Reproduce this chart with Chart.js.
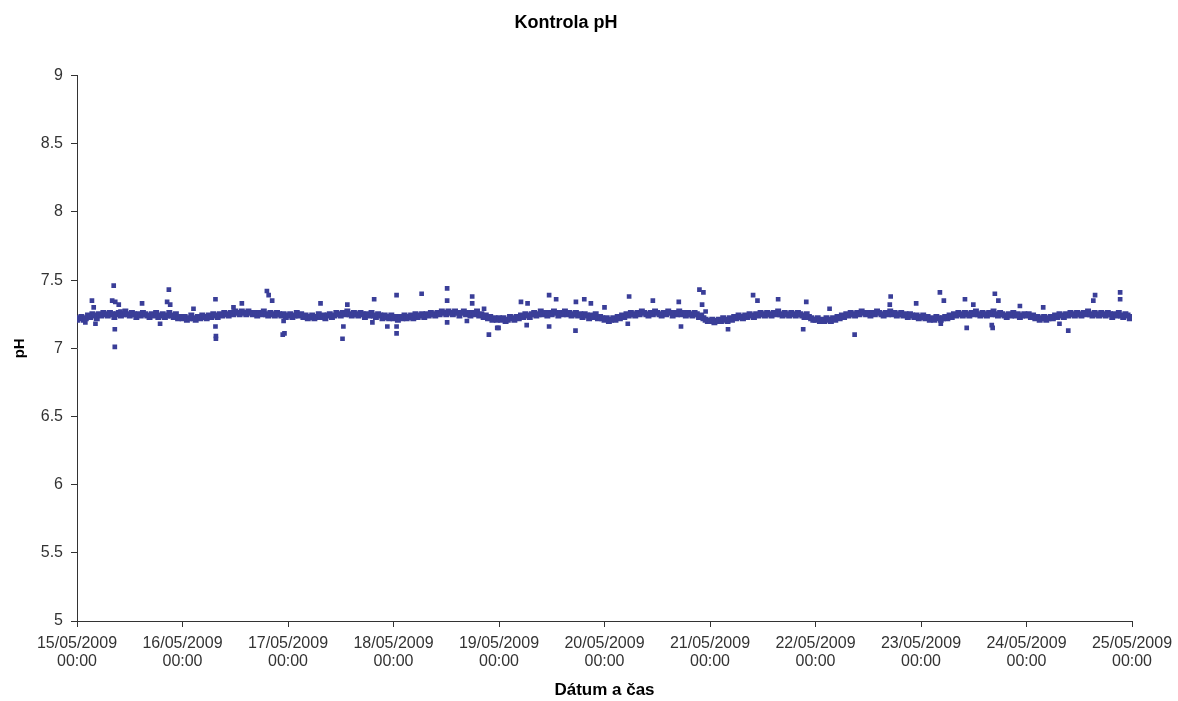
<!DOCTYPE html>
<html>
<head>
<meta charset="utf-8">
<script src="https://cdn.jsdelivr.net/npm/chart.js@4"></script>
<style>
html,body{margin:0;padding:0;background:#fff;}
#wrap{width:1178px;height:701px;}
</style>
</head>
<body>
<div id="wrap"><canvas id="c" width="1178" height="701"></canvas></div>
<script>
// X tick labels (one per day, 15/05/2009 .. 25/05/2009)
const xTickLabels = [
  ["15/05/2009","00:00"],["16/05/2009","00:00"],["17/05/2009","00:00"],["18/05/2009","00:00"],
  ["19/05/2009","00:00"],["20/05/2009","00:00"],["21/05/2009","00:00"],["22/05/2009","00:00"],
  ["23/05/2009","00:00"],["24/05/2009","00:00"],["25/05/2009","00:00"]
];
// Y tick labels
const yTickLabels = {5:"5",5.5:"5.5",6:"6",6.5:"6.5",7:"7",7.5:"7.5",8:"8",8.5:"8.5",9:"9"};
// Reading interval in hours (half-hourly readings)
const readingStepHours = 0.5;

// Half-hourly pH readings per day
const day15 = [7.21,7.22,7.23,7.21,7.22,7.24,7.23,7.25,7.24,7.22,7.25,7.24,7.26,7.25,7.24,7.26,7.25,7.23,7.25,7.26,7.24,7.25,7.27,7.25,7.24,7.26,7.25,7.23,7.25,7.24,7.26,7.25,7.24,7.23,7.25,7.24,7.26,7.23,7.24,7.25,7.23,7.24,7.26,7.24,7.23,7.25,7.22,7.23];
const day16 = [7.22,7.23,7.21,7.22,7.24,7.22,7.21,7.23,7.22,7.24,7.23,7.22,7.24,7.23,7.25,7.24,7.23,7.25,7.24,7.26,7.25,7.24,7.26,7.25,7.27,7.26,7.25,7.27,7.26,7.25,7.27,7.26,7.25,7.26,7.24,7.26,7.25,7.27,7.25,7.24,7.26,7.25,7.24,7.26,7.25,7.24,7.25,7.23];
const day17 = [7.24,7.25,7.23,7.24,7.26,7.24,7.25,7.23,7.24,7.22,7.23,7.24,7.22,7.23,7.25,7.23,7.24,7.22,7.24,7.25,7.23,7.24,7.26,7.25,7.24,7.26,7.25,7.27,7.25,7.24,7.26,7.25,7.24,7.26,7.25,7.23,7.25,7.24,7.26,7.24,7.23,7.25,7.24,7.22,7.24,7.23,7.22,7.24];
const day18 = [7.22,7.23,7.21,7.23,7.22,7.24,7.22,7.23,7.24,7.22,7.25,7.23,7.24,7.25,7.23,7.25,7.24,7.26,7.25,7.24,7.26,7.25,7.27,7.26,7.25,7.27,7.26,7.25,7.27,7.26,7.24,7.26,7.27,7.25,7.26,7.24,7.26,7.25,7.27,7.24,7.25,7.23,7.24,7.22,7.23,7.21,7.22,7.21];
const day19 = [7.22,7.21,7.22,7.20,7.21,7.23,7.22,7.21,7.23,7.22,7.24,7.23,7.25,7.24,7.23,7.25,7.26,7.24,7.25,7.27,7.25,7.26,7.24,7.26,7.25,7.27,7.26,7.24,7.26,7.25,7.27,7.25,7.26,7.24,7.25,7.26,7.24,7.25,7.23,7.25,7.24,7.22,7.24,7.23,7.25,7.22,7.23,7.22];
const day20 = [7.21,7.22,7.20,7.21,7.22,7.21,7.23,7.22,7.24,7.23,7.25,7.24,7.26,7.25,7.24,7.26,7.25,7.27,7.26,7.25,7.24,7.26,7.25,7.27,7.26,7.25,7.24,7.26,7.25,7.27,7.26,7.24,7.26,7.25,7.27,7.25,7.26,7.24,7.26,7.25,7.24,7.26,7.25,7.23,7.24,7.22,7.21,7.20];
const day21 = [7.20,7.21,7.19,7.20,7.21,7.20,7.22,7.21,7.20,7.22,7.21,7.23,7.22,7.24,7.23,7.22,7.24,7.23,7.25,7.24,7.23,7.25,7.24,7.26,7.25,7.24,7.26,7.25,7.24,7.26,7.25,7.27,7.25,7.24,7.26,7.25,7.24,7.26,7.25,7.24,7.26,7.25,7.24,7.23,7.25,7.23,7.22,7.21];
const day22 = [7.21,7.22,7.20,7.21,7.20,7.22,7.21,7.20,7.22,7.21,7.23,7.22,7.24,7.23,7.25,7.24,7.26,7.25,7.24,7.26,7.25,7.27,7.26,7.25,7.26,7.24,7.26,7.25,7.27,7.26,7.25,7.24,7.26,7.25,7.27,7.25,7.26,7.24,7.25,7.26,7.24,7.25,7.23,7.25,7.24,7.23,7.24,7.22];
const day23 = [7.23,7.24,7.22,7.23,7.21,7.22,7.21,7.23,7.22,7.21,7.22,7.23,7.22,7.24,7.23,7.25,7.24,7.26,7.25,7.24,7.26,7.25,7.24,7.26,7.25,7.27,7.25,7.24,7.26,7.25,7.24,7.26,7.25,7.27,7.25,7.24,7.26,7.25,7.24,7.23,7.25,7.24,7.26,7.24,7.25,7.23,7.24,7.25];
const day24 = [7.24,7.25,7.23,7.24,7.22,7.23,7.21,7.22,7.23,7.21,7.22,7.23,7.22,7.24,7.23,7.25,7.24,7.23,7.25,7.24,7.26,7.25,7.24,7.26,7.25,7.24,7.26,7.25,7.27,7.25,7.24,7.26,7.25,7.24,7.26,7.25,7.24,7.26,7.25,7.23,7.25,7.24,7.26,7.24,7.23,7.25,7.24,7.22];
const day25 = [7.23];

// Scattered readings away from the main band: hours since 15/05/2009 00:00 and pH
const outlierHours = [1.9,3.4,3.8,4.2,8.0,8.35,8.6,8.6,8.7,9.5,9.9,14.8,18.9,20.5,20.9,21.2,26.5,31.5,31.5,31.6,31.6,35.6,37.5,43.2,43.6,44.4,46.8,47.0,47.2,55.4,60.4,60.6,61.5,67.2,67.6,70.6,72.7,72.7,72.7,78.4,84.2,84.2,84.2,88.7,89.9,89.9,92.6,93.7,95.6,95.9,101.0,102.3,102.5,107.4,107.4,109.0,113.4,113.5,115.4,116.9,120.0,125.3,125.6,131.0,136.9,137.4,141.6,142.2,142.5,143.0,148.1,153.8,154.8,159.5,165.2,165.9,171.2,176.9,184.9,185.1,190.9,196.3,196.5,197.2,202.0,202.4,203.9,208.1,208.3,208.8,209.6,214.5,219.8,223.5,225.5,231.2,231.6,237.3,237.3];
const outlierValues = [7.19,7.35,7.30,7.18,7.35,7.46,7.14,7.01,7.34,7.32,7.27,7.33,7.18,7.34,7.43,7.32,7.29,7.36,7.16,7.09,7.07,7.30,7.33,7.42,7.39,7.35,7.10,7.20,7.11,7.33,7.07,7.16,7.32,7.19,7.36,7.16,7.39,7.16,7.11,7.40,7.44,7.35,7.19,7.20,7.38,7.33,7.29,7.10,7.15,7.15,7.34,7.17,7.33,7.39,7.16,7.36,7.13,7.34,7.36,7.33,7.30,7.18,7.38,7.35,7.34,7.16,7.43,7.32,7.41,7.27,7.14,7.39,7.35,7.36,7.14,7.34,7.29,7.10,7.32,7.38,7.33,7.41,7.18,7.35,7.36,7.15,7.32,7.17,7.15,7.40,7.35,7.31,7.30,7.18,7.13,7.35,7.39,7.41,7.36];

const readings = [].concat(day15,day16,day17,day18,day19,day20,day21,day22,day23,day24,day25);
const mainPoints = readings.map((v,i)=>({x:i*readingStepHours,y:v}));
const outlierPoints = outlierHours.map((h,i)=>({x:h,y:outlierValues[i]}));

const markerColor = '#3a3e98';
const labelFont = {family:'"Liberation Sans", Arial, sans-serif', size:16, lineHeight:1.1};

new Chart(document.getElementById('c'), {
  type:'scatter',
  data:{datasets:[
    {data:mainPoints, backgroundColor:markerColor, borderWidth:0, pointStyle:'rect', pointRadius:4.2, pointHoverRadius:4.2},
    {data:outlierPoints, backgroundColor:markerColor, borderWidth:0, pointStyle:'rect', pointRadius:3.3, pointHoverRadius:3.3}
  ]},
  options:{
    responsive:false, animation:false, devicePixelRatio:1,
    layout:{padding:{left:0,right:46,top:0,bottom:0}},
    plugins:{
      legend:{display:false}, tooltip:{enabled:false},
      title:{display:true, text:'Kontrola pH', color:'#000',
        font:{family:'"Liberation Sans", Arial, sans-serif', size:18, weight:'bold', lineHeight:1.2},
        padding:{top:12,bottom:42}}
    },
    scales:{
      x:{type:'linear', min:0, max:240,
        afterFit:(s)=>{s.height=80; s.paddingRight=0; s.paddingLeft=0;},
        ticks:{stepSize:24, autoSkip:false, maxRotation:0, color:'#333', font:labelFont, padding:8,
          callback:(v)=>xTickLabels[Math.round(v/24)]},
        grid:{display:true, drawOnChartArea:false, drawTicks:true, tickLength:6, color:'#333'},
        border:{display:true, color:'#333', width:1},
        title:{display:true, text:'Dátum a čas', color:'#000',
          font:{family:'"Liberation Sans", Arial, sans-serif', size:17, weight:'bold', lineHeight:1.2}, padding:{top:0,bottom:0}}
      },
      y:{type:'linear', min:5, max:9,
        afterFit:(s)=>{s.width=77;},
        ticks:{stepSize:0.5, color:'#333', font:{family:'"Liberation Sans", Arial, sans-serif', size:16}, padding:8,
          callback:(v)=>yTickLabels[v]},
        grid:{display:true, drawOnChartArea:false, drawTicks:true, tickLength:6, color:'#333'},
        border:{display:true, color:'#333', width:1},
        title:{display:true, text:'pH', color:'#000',
          font:{family:'"Liberation Sans", Arial, sans-serif', size:15, weight:'bold', lineHeight:1.2}, padding:{top:11,bottom:0}}
      }
    }
  }
});
</script>
</body>
</html>
